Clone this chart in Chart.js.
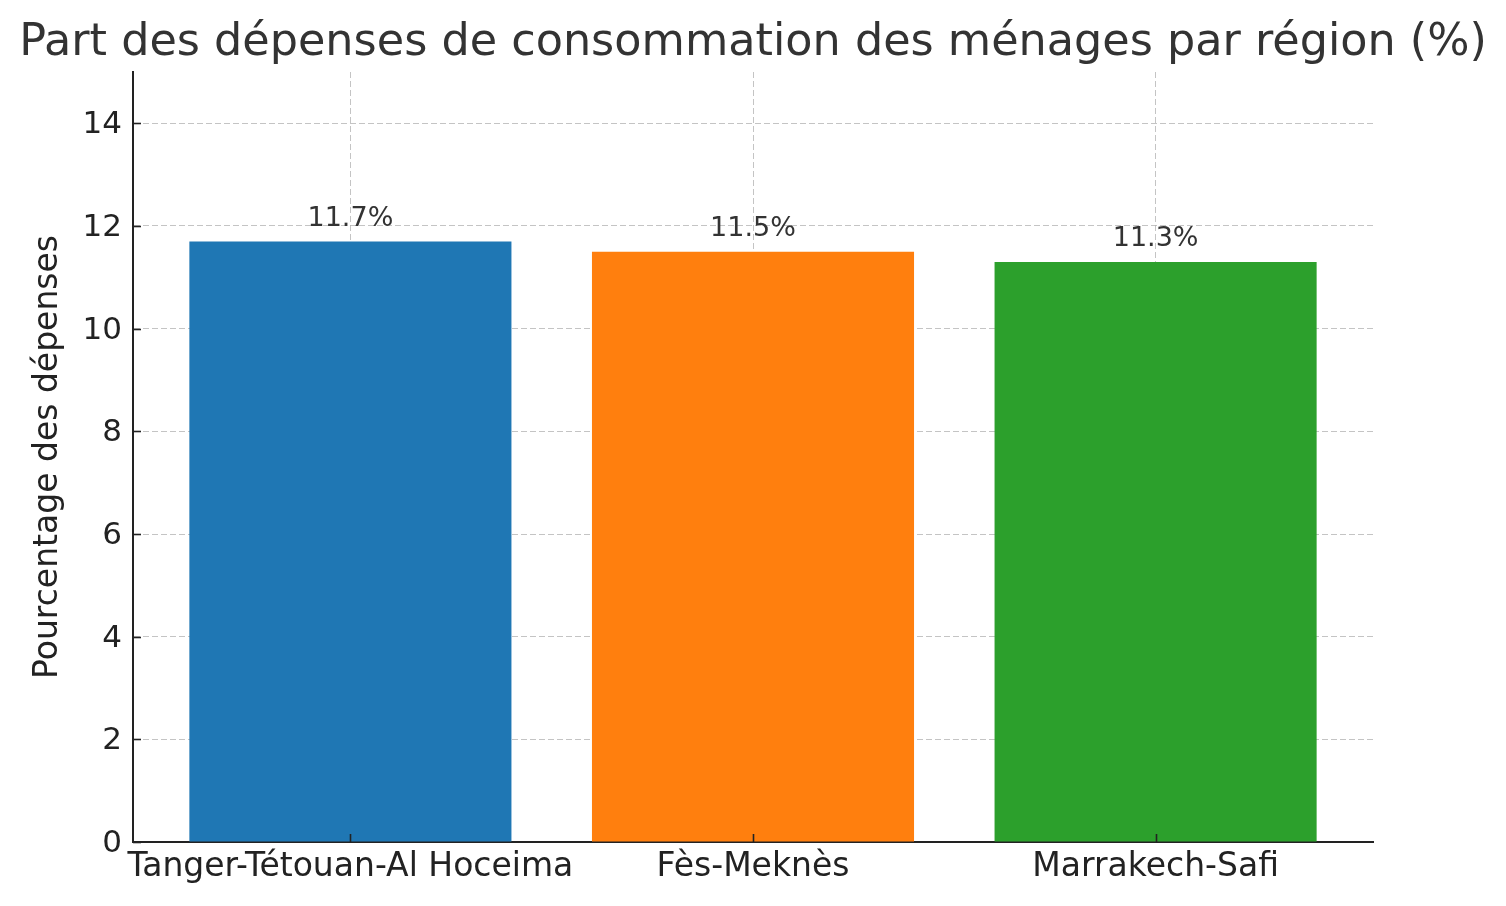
<!DOCTYPE html>
<html>
<head>
<meta charset="utf-8">
<script src="https://cdn.jsdelivr.net/npm/chart.js@4"></script>
<style>
  body { margin: 0; background: #fff; }
  #wrap { width: 1506px; height: 906px; }
</style>
</head>
<body>
<div id="wrap"><canvas id="chart" width="1506" height="906"></canvas></div>
<script>
// data
const categories = ["Tanger-Tétouan-Al Hoceima", "Fès-Meknès", "Marrakech-Safi"];
const values = [11.7, 11.5, 11.3];
const barColors = ["#1f77b4", "#ff7f0e", "#2ca02c"];
const yTicks = [0, 2, 4, 6, 8, 10, 12, 14];

const titleText = "Part des dépenses de consommation des ménages par région (%)";
const FONT = "'DejaVu Sans', sans-serif";

// inward tick marks + value labels + title
const extras = {
    id: 'extras',
    afterDraw(chart) {
        const ctx = chart.ctx;
        const xs = chart.scales.x, ys = chart.scales.y;
        const area = chart.chartArea;
        ctx.save();
        ctx.strokeStyle = '#222';
        ctx.lineWidth = 1.6;
        ys.ticks.forEach(t => {
            const y = Math.round(ys.getPixelForValue(t.value)) + 0.5;
            ctx.beginPath(); ctx.moveTo(area.left, y); ctx.lineTo(area.left + 8, y); ctx.stroke();
        });
        xs.ticks.forEach(t => {
            const x = Math.round(xs.getPixelForValue(t.value)) + 0.5;
            ctx.beginPath(); ctx.moveTo(x, area.bottom); ctx.lineTo(x, area.bottom - 8); ctx.stroke();
        });

        ctx.fillStyle = '#333';
        ctx.font = "27px " + FONT;
        ctx.textAlign = 'center';
        ctx.textBaseline = 'alphabetic';
        values.forEach((v, i) => {
            const x = xs.getPixelForValue(i);
            const y = ys.getPixelForValue(v) - 15.5;
            ctx.fillText(v.toFixed(1) + '%', x, y);
        });

        ctx.font = "44.5px " + FONT;
        ctx.fillText(titleText, chart.width / 2, 55);
        ctx.restore();
    }
};

new Chart(document.getElementById("chart"), {
    type: 'bar',
    data: {
        datasets: [{
            data: values.map((v, i) => ({ x: i, y: v })),
            backgroundColor: barColors,
            barPercentage: 1,
            categoryPercentage: 0.8
        }]
    },
    options: {
        responsive: false,
        animation: false,
        layout: { padding: { top: 72, right: 133, left: 0, bottom: 0 } },
        plugins: {
            legend: { display: false },
            tooltip: { enabled: false },
            title: { display: false }
        },
        scales: {
            x: {
                type: 'linear',
                min: -0.54,
                max: 2.54,
                offset: false,
                z: 1,
                afterBuildTicks: s => { s.ticks = categories.map((c, i) => ({ value: i })); },
                afterFit: s => { s.height = 64; },
                ticks: {
                    callback: v => categories[v],
                    autoSkip: false,
                    color: '#222',
                    font: { family: FONT, size: 33 },
                    padding: 6,
                    maxRotation: 0
                },
                grid: {
                    offset: false,
                    color: 'rgba(176,176,176,0.75)',
                    lineWidth: 1,
                    drawTicks: false
                },
                border: { display: true, color: '#222', width: 2, dash: [6, 3] }
            },
            y: {
                min: 0,
                max: 15,
                z: 1,
                afterBuildTicks: s => { s.ticks = yTicks.map(v => ({ value: v })); },
                afterFit: s => { s.width = 133; },
                ticks: {
                    color: '#222',
                    font: { family: FONT, size: 31 },
                    padding: 11,
                    labelOffset: 2
                },
                grid: {
                    color: 'rgba(176,176,176,0.75)',
                    lineWidth: 1,
                    drawTicks: false
                },
                border: { display: true, color: '#222', width: 2, dash: [6, 3] },
                title: {
                    display: true,
                    text: 'Pourcentage des dépenses',
                    color: '#222',
                    font: { family: FONT, size: 33 },
                    padding: { top: 29, bottom: 0 }
                }
            }
        }
    },
    plugins: [extras]
});
</script>
</body>
</html>
